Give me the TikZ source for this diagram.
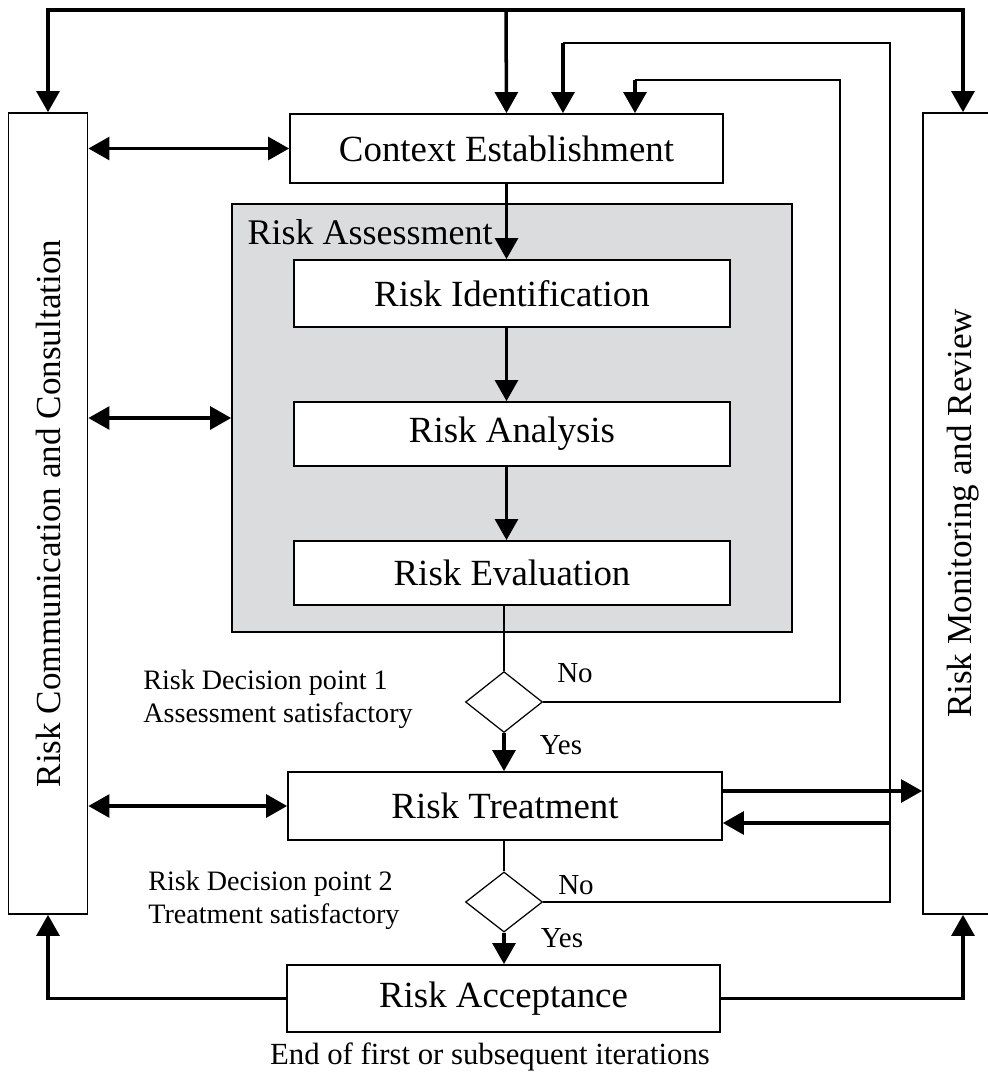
\documentclass[tikz,border=0pt]{standalone}
\usepackage{xcolor}
\usepackage{fontspec}
\setmainfont{Liberation Serif}
\usepackage{tikz}
\usetikzlibrary{arrows.meta,positioning,shapes.geometric}
\definecolor{assessgray}{RGB}{218,220,222}

\begin{document}
\begin{tikzpicture}[x=0.02cm, y=-0.02cm,
  block/.style={draw, fill=white, line width=1pt, inner sep=0pt, minimum width=8.7cm, minimum height=1.36cm, font=\fontsize{21}{24}\selectfont},
  sidebox/.style={draw, fill=white, line width=1pt, inner sep=0pt, minimum width=1.58cm, minimum height=16.02cm, font=\fontsize{20}{24}\selectfont},
  decision/.style={draw, diamond, line width=0.7pt, inner sep=0pt, minimum width=1.54cm, minimum height=1.22cm},
  arrow/.style={-{Triangle[length=12pt,width=13pt]}, line width=2pt},
  biarrow/.style={{Triangle[length=12pt,width=13pt]}-{Triangle[length=12pt,width=13pt]}, line width=2pt},
  thinline/.style={line width=1pt},
  small/.style={font=\fontsize{16}{19}\selectfont, inner sep=0pt, align=left},
  yesno/.style={font=\fontsize{16.5}{19}\selectfont, inner sep=0pt}
]
\useasboundingbox (0,0) rectangle (988,1073);

% side columns
\node[sidebox] (comm) at (48,513.5) {\rotatebox{90}{Risk Communication and Consultation}};
\node[sidebox, minimum width=1.6cm] (mon) at (963,513.5) {\rotatebox{90}{Risk Monitoring and Review}};

% main column
\node[block, minimum width=8.66cm, minimum height=1.38cm] (ctx) at (506.5,148.5) {Context Establishment};
\node[draw, fill=assessgray, line width=1pt, minimum width=11.2cm, minimum height=8.56cm] (assess) at (512,418) {};
\node[anchor=base west, inner sep=0pt, font=\fontsize{20.5}{24}\selectfont] (assesslbl) at ([xshift=0.32cm,yshift=-0.82cm]assess.north west) {Risk Assessment};
\node[block, minimum width=8.72cm, minimum height=1.34cm] (ident) at (512,293.5) {Risk Identification};
\node[block, minimum width=8.72cm, minimum height=1.28cm] (anal) at (512,434) {Risk Analysis};
\node[block, minimum width=8.72cm, minimum height=1.28cm] (eval) at (512,573) {Risk Evaluation};
\node[decision] (d1) at (504,702) {};
\node[block, minimum width=8.68cm] (treat) at (505,806) {Risk Treatment};
\node[decision, minimum height=1.2cm] (d2) at (504,902) {};
\node[block, minimum width=8.66cm, minimum height=1.34cm] (accept) at (503.5,998.5) {Risk Acceptance};

% labels
\node[small, anchor=west] (dp1) at (143,699) {Risk Decision point 1\\Assessment satisfactory};
\node[small, anchor=west] (dp2) at (148,900) {Risk Decision point 2\\Treatment satisfactory};
\node[yesno] (no1) at (575,673) {No};
\node[yesno] (yes1) at (561,745) {Yes};
\node[yesno] (no2) at (576,885) {No};
\node[yesno] (yes2) at (562,938) {Yes};
\node[small, font=\fontsize{17.5}{20}\selectfont] (iterlbl) at (490,1057) {End of first or subsequent iterations};

% return paths
\coordinate (topmid) at (506,10);
\coordinate (ret1) at (635,80);
\coordinate (ret2) at (563,43);
\coordinate (fb) at (890,823);

\draw[arrow] (topmid) -| (comm.north);
\draw[arrow] (topmid) -| (mon.north);
\draw[arrow] (topmid) -- (ctx.north);

\draw[thinline] (d1.east) -| (840,80) -- (ret1);
\draw[arrow] (ret1) -- (ret1 |- ctx.north);
\draw[thinline] (d2.east) -| (890,43) -- (ret2);
\draw[arrow] (ret2) -- (ret2 |- ctx.north);

% flow
\draw[arrow] (ctx.south) -- (ctx.south |- ident.north);
\draw[arrow] (ident.south -| ctx.south) -- (anal.north -| ctx.south);
\draw[arrow] (anal.south -| ctx.south) -- (eval.north -| ctx.south);
\draw[thinline] (eval.south -| d1) -- (d1.north);
\draw[arrow] (d1.south) -- (d1.south |- treat.north);
\draw[thinline] (treat.south -| d2) -- (d2.north);
\draw[arrow] (d2.south) -- (d2.south |- accept.north);

% communication links
\draw[biarrow] (comm.east |- ctx.west) -- (ctx.west);
\draw[biarrow] (comm.east |- assess.west) -- (assess.west);
\draw[biarrow] (comm.east |- treat.west) -- (treat.west);

% monitoring links
\draw[arrow] ([yshift=0.3cm]treat.east) -- ([yshift=0.3cm]treat.east -| mon.west);
\draw[arrow] (fb) -- (fb -| treat.east);
\draw[arrow] (accept.west) -| (comm.south);
\draw[arrow] (accept.east) -| (mon.south);
\end{tikzpicture}
\end{document}
